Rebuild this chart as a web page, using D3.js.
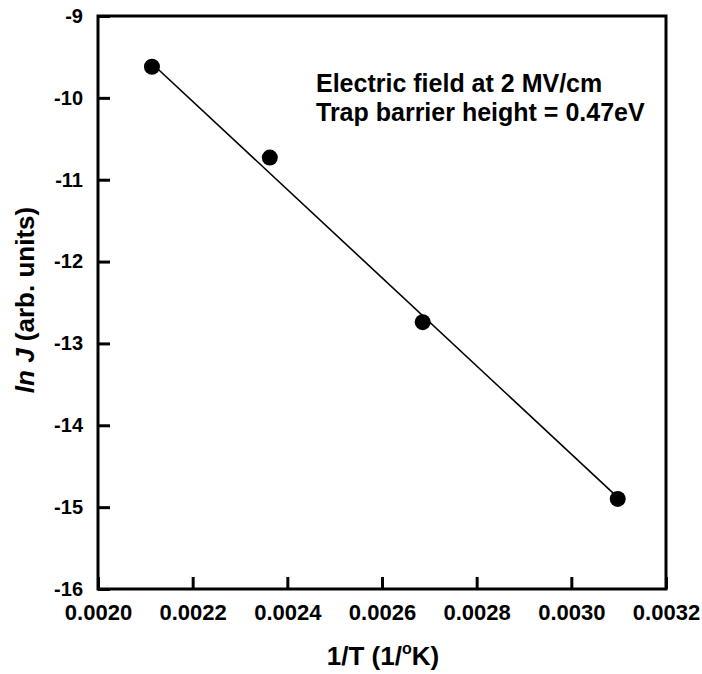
<!DOCTYPE html>
<html>
<head>
<meta charset="utf-8">
<script src="https://cdn.jsdelivr.net/npm/d3@7"></script>
<style>
  body { margin: 0; background: #fff; }
</style>
</head>
<body>
<svg class="vis" width="702" height="674"></svg>
<script>
// data
var invT = [0.002114, 0.002363, 0.002686, 0.003098];
var lnJ = [-9.62, -10.73, -12.74, -14.90];
var fitX = [0.002114, 0.003098];
var fitY = [-9.58, -14.88];
var xTicks = [0.0020, 0.0022, 0.0024, 0.0026, 0.0028, 0.0030, 0.0032];
var yTicks = [-9, -10, -11, -12, -13, -14, -15, -16];
var notes = ["Electric field at 2 MV/cm", "Trap barrier height = 0.47eV"];

var svg = d3.select(".vis");
var font = "'Liberation Sans', Arial, Helvetica, sans-serif";

var plotL = 98, plotR = 666, plotT = 16, plotB = 589;

var x = d3.scaleLinear().domain([0.0020, 0.0032]).range([plotL, plotR]);
var y = d3.scaleLinear().domain([-16, -9]).range([plotB, plotT]);

// frame
svg.append("rect")
    .attr("x", plotL)
    .attr("y", plotT)
    .attr("width", plotR - plotL)
    .attr("height", plotB - plotT)
    .attr("fill", "none")
    .attr("stroke", "#000")
    .attr("stroke-width", 3);

// axes, ticks point inward
var xAxis = svg.append("g")
    .attr("transform", `translate(0, ${plotB})`)
    .call(d3.axisBottom(x).tickValues(xTicks).tickFormat(d3.format(".4f"))
        .tickSizeInner(-12).tickSizeOuter(0).tickPadding(15));
xAxis.select(".domain").remove();
xAxis.selectAll("line").attr("stroke-width", 3);
xAxis.selectAll("text")
    .attr("font-family", font)
    .attr("font-weight", "bold")
    .attr("font-size", "22px")
    .attr("fill", "#000");

var yAxis = svg.append("g")
    .attr("transform", `translate(${plotL}, 0)`)
    .call(d3.axisLeft(y).tickValues(yTicks).tickFormat(function (d) { return String(d); })
        .tickSizeInner(-12).tickSizeOuter(0).tickPadding(15));
yAxis.select(".domain").remove();
yAxis.selectAll("line").attr("stroke-width", 3);
yAxis.selectAll("text")
    .attr("font-family", font)
    .attr("font-weight", "bold")
    .attr("font-size", "20px")
    .attr("fill", "#000");

// fit line
svg.append("line")
    .attr("x1", x(fitX[0]))
    .attr("y1", y(fitY[0]))
    .attr("x2", x(fitX[1]))
    .attr("y2", y(fitY[1]))
    .attr("stroke", "#000")
    .attr("stroke-width", 1.6);

// points
svg.selectAll("circle.pt")
    .data(invT)
    .join("circle")
    .attr("class", "pt")
    .attr("cx", function (d) { return x(d); })
    .attr("cy", function (d, i) { return y(lnJ[i]); })
    .attr("r", 8)
    .attr("fill", "#000");

// annotation
svg.selectAll("text.note")
    .data(notes)
    .join("text")
    .attr("class", "note")
    .attr("x", 316)
    .attr("y", function (d, i) { return 92 + i * 29; })
    .attr("font-family", font)
    .attr("font-weight", "bold")
    .attr("font-size", "25px")
    .text(function (d) { return d; });

// axis titles
var xt = svg.append("text")
    .attr("x", 383)
    .attr("y", 665)
    .attr("text-anchor", "middle")
    .attr("font-family", font)
    .attr("font-weight", "bold")
    .attr("font-size", "26px");
xt.append("tspan").text("1/T (1/");
xt.append("tspan").attr("font-size", "16px").attr("dy", -11).text("o");
xt.append("tspan").attr("dy", 11).text("K)");

var yt = svg.append("text")
    .attr("transform", `translate(34, 300) rotate(-90)`)
    .attr("text-anchor", "middle")
    .attr("font-family", font)
    .attr("font-weight", "bold")
    .attr("font-size", "26px");
yt.append("tspan").attr("font-style", "italic").text("ln J");
yt.append("tspan").text(" (arb. units)");
</script>
</body>
</html>
